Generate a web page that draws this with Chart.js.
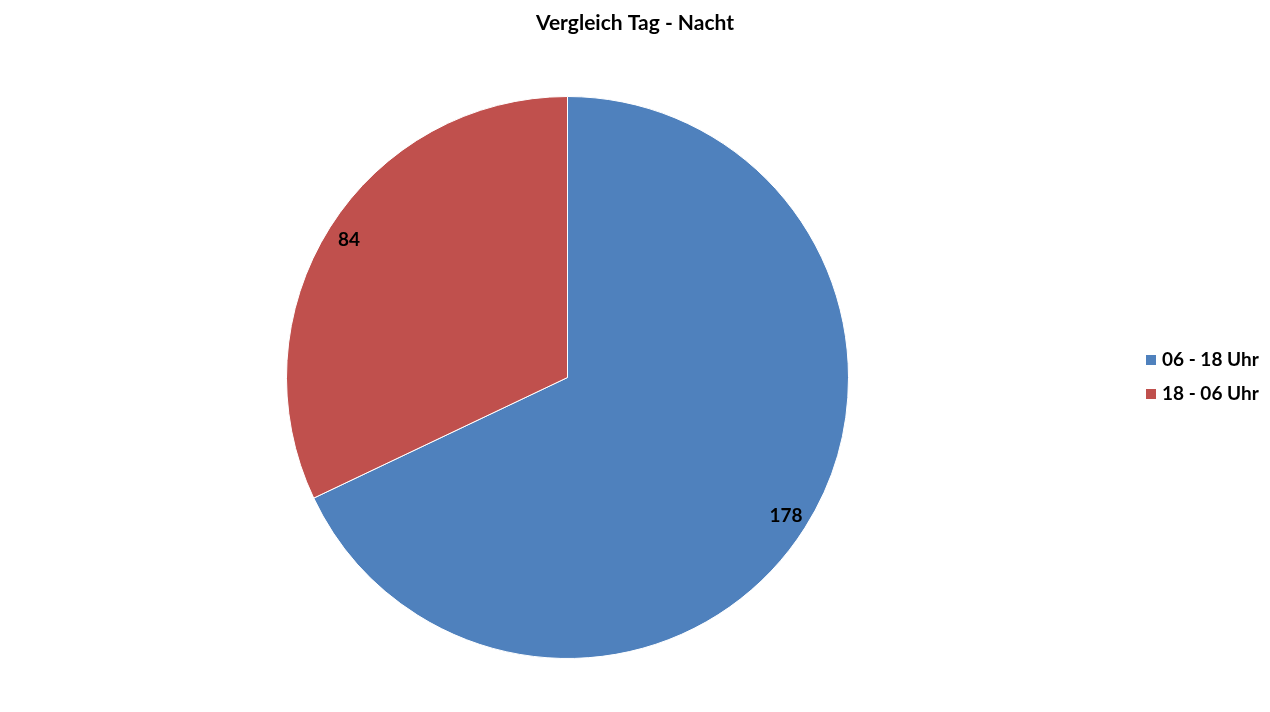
<!DOCTYPE html>
<html>
<head>
<meta charset="utf-8">
<script src="https://cdn.jsdelivr.net/npm/chart.js@4"></script>
<style>
  html, body { margin: 0; padding: 0; background: #fff; }
  #wrap { width: 1270px; height: 712px; }
</style>
</head>
<body>
<div id="wrap"><canvas id="chart" width="1270" height="712"></canvas></div>
<script>
const chartTitle = 'Vergleich Tag - Nacht';
const categories = ['06 - 18 Uhr', '18 - 06 Uhr'];
const values = [178, 84];
const colors = ['#4F81BD', '#C0504D'];

const FONT = 'Lato, "Open Sans", sans-serif';

// Title, value labels and legend drawn by hand to match the Excel look
const decorations = {
    id: 'decorations',
    afterDraw(chart) {
        const ctx = chart.ctx;
        ctx.save();
        ctx.fillStyle = '#000';
        ctx.textBaseline = 'middle';

        // Title
        ctx.font = 'bold 21px ' + FONT;
        ctx.textAlign = 'center';
        ctx.fillText(chartTitle, 635, 23);

        // Value labels near the rim on the middle angle
        ctx.font = 'bold 19px ' + FONT;
        const meta = chart.getDatasetMeta(0);
        meta.data.forEach((arc, i) => {
            const p = arc.getProps(['x', 'y', 'startAngle', 'endAngle', 'outerRadius'], true);
            const mid = (p.startAngle + p.endAngle) / 2;
            const r = p.outerRadius * 0.92;
            ctx.fillText(String(chart.data.datasets[0].data[i]), p.x + Math.cos(mid) * r, p.y + Math.sin(mid) * r);
        });

        // Legend
        ctx.textAlign = 'left';
        ctx.font = 'bold 19px ' + FONT;
        categories.forEach((label, i) => {
            const y = 360 + i * 34;
            ctx.fillStyle = colors[i];
            ctx.fillRect(1146, y - 5, 10, 10);
            ctx.fillStyle = '#000';
            ctx.fillText(label, 1162, y);
        });
        ctx.restore();
    }
};

new Chart(document.getElementById('chart').getContext('2d'), {
    type: 'pie',
    data: {
        labels: categories,
        datasets: [{
            data: values,
            backgroundColor: colors,
            borderColor: '#fff',
            borderWidth: 1
        }]
    },
    options: {
        responsive: false,
        animation: false,
        layout: { padding: { left: 286, right: 421, top: 96, bottom: 53 } },
        plugins: {
            legend: { display: false },
            title: { display: false },
            tooltip: { enabled: false }
        }
    },
    plugins: [decorations]
});
</script>
</body>
</html>
